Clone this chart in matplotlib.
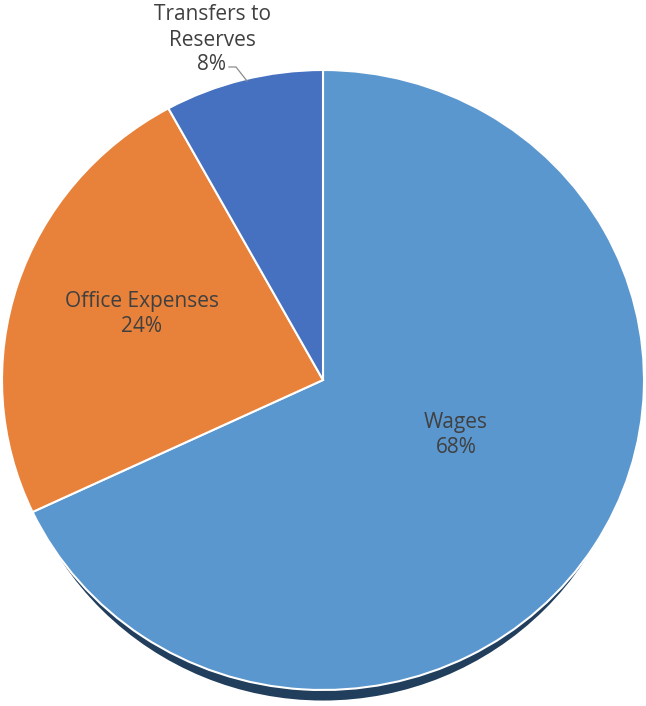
import matplotlib
matplotlib.use("Agg")
import matplotlib.pyplot as plt
import matplotlib.patches as mpatches
import matplotlib.transforms as mtransforms

categories = ["Wages", "Office Expenses", "Transfers to\nReserves"]
shares = [68, 24, 8]
colors = ["#5B97CF", "#E8813A", "#4671C0"]

W, H = 646, 706
fig = plt.figure(figsize=(W / 100, H / 100), dpi=100)
ax = fig.add_axes([0, 0, 1, 1])

# pie centre / radii in pixels (from top-left)
cx, cy = 323, 380
rx, ry = 321, 310

# dark rim under the pie
rim = mpatches.Ellipse((0, -0.034), 1.95, 2.0, facecolor="#213E5C",
                       edgecolor="none", zorder=0)
ax.add_patch(rim)

wedges, _ = ax.pie(shares, colors=colors, startangle=90, counterclock=False,
                   radius=1.0, center=(0, 0),
                   wedgeprops=dict(edgecolor="white", linewidth=1.5))
for w in wedges:
    w.set_zorder(1)
ax.axis("off")
ax.set_aspect("auto")
ax.set_xlim(-cx / rx, (W - cx) / rx)
ax.set_ylim(-(H - cy) / ry, cy / ry)

# pixel coordinates, y measured from the top
px = mtransforms.Affine2D().scale(1 / W, -1 / H).translate(0, 1) + fig.transFigure

font = dict(family="Open Sans", fontsize=15, color="#404040",
            ha="center", va="center", linespacing=1.25, transform=px)
label_pos = [(456, 435), (142, 314), (212, 40)]
for name, val, (x, y) in zip(categories, shares, label_pos):
    ax.text(x, y, f"{name}\n{val}%", zorder=5, **font)

# leader line for the small slice
ax.plot([229, 236, 247], [67, 67, 81], color="#8C8C8C", lw=0.9,
        transform=px, zorder=5)

fig.savefig("out.png", dpi=100)
